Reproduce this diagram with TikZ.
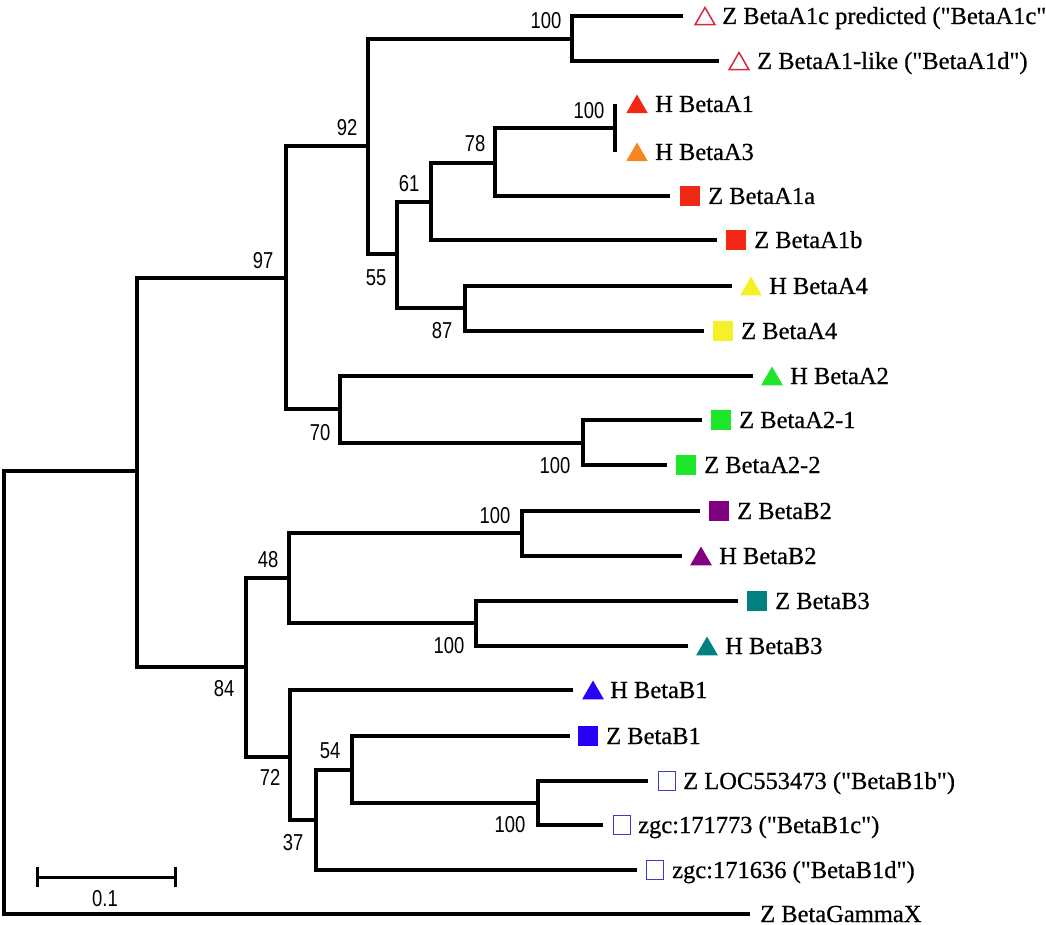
\documentclass[tikz,border=0pt]{standalone}
\usepackage{fontspec}
\setmainfont{Liberation Serif}[FakeBold=0.6]
\newfontfamily\bootfont[FakeStretch=0.8]{Liberation Sans}
\usepackage{xcolor}
\usetikzlibrary{shapes.geometric}
\usetikzlibrary{positioning}

\definecolor{openred}{RGB}{215,40,60}
\definecolor{openblue}{RGB}{60,60,200}
\definecolor{tred}{RGB}{240,40,20}
\definecolor{torange}{RGB}{245,135,30}
\definecolor{tyellow}{RGB}{245,240,40}
\definecolor{tgreen}{RGB}{30,230,40}
\definecolor{tpurple}{RGB}{128,0,128}
\definecolor{tteal}{RGB}{0,128,128}
\definecolor{tblue}{RGB}{40,0,250}

\newcommand{\qq}{\textquotedbl}

\begin{document}
\begin{tikzpicture}[x=1pt, y=-1pt]
\tikzset{
  branch/.style={line width=3.5pt, line join=miter},
  leaf/.style={anchor=west, inner sep=0pt, text height=16pt, text depth=0pt, font=\fontsize{24.5}{27}\selectfont},
  boot/.style={inner sep=0pt, text height=16.5pt, text depth=0pt, font=\bootfont\fontsize{23}{26}\selectfont},
  tri/.style={regular polygon, regular polygon sides=3, minimum size=25pt, inner sep=0pt, yshift=-3pt},
  sq/.style={rectangle, minimum size=19.5pt, inner sep=0pt},
  otri/.style={tri, draw=openred, line width=1.5pt, minimum size=23pt},
  osq/.style={sq, draw=openblue, line width=1.5pt, minimum width=17pt, minimum height=19pt},
}
\useasboundingbox (0,0) rectangle (1046,925);

% inner nodes of the tree
\coordinate (root) at (4,693);
\coordinate (n1) at (137,471);
\coordinate (n97) at (286,278);
\coordinate (n92) at (368,146);
\coordinate (n100a) at (572,39);
\coordinate (n55) at (397,254);
\coordinate (n61) at (431,202);
\coordinate (n78) at (495,163);
\coordinate (n100b) at (615,128);
\coordinate (n87) at (465,308);
\coordinate (n70) at (340,409);
\coordinate (n100c) at (583,443);
\coordinate (n84) at (246,667);
\coordinate (n48) at (289,578);
\coordinate (n100d) at (522,533);
\coordinate (n100e) at (476,623);
\coordinate (n72) at (290,757);
\coordinate (n37) at (316,820);
\coordinate (n54) at (352,770);
\coordinate (n100f) at (538,803);

% leaf ends
\coordinate (e1) at (683,16);
\coordinate (e2) at (719,61);
\coordinate (e3) at (615,104);
\coordinate (e4) at (615,152);
\coordinate (e5) at (670,196);
\coordinate (e6) at (717,240);
\coordinate (e7) at (732,286);
\coordinate (e8) at (704,331);
\coordinate (e9) at (753,376);
\coordinate (e10) at (702,420);
\coordinate (e11) at (667,465);
\coordinate (e12) at (700,511);
\coordinate (e13) at (682,556);
\coordinate (e14) at (738,601);
\coordinate (e15) at (688,646);
\coordinate (e16) at (573,690);
\coordinate (e17) at (570,736);
\coordinate (e18) at (648,781);
\coordinate (e19) at (603,825);
\coordinate (e20) at (637,870);
\coordinate (e21) at (750,914);

\draw[branch] (root) |- (n1);
\draw[branch] (root) |- (e21);
\draw[branch] (n1) |- (n97);
\draw[branch] (n1) |- (n84);
\draw[branch] (n97) |- (n92);
\draw[branch] (n97) |- (n70);
\draw[branch] (n92) |- (n100a);
\draw[branch] (n92) |- (n55);
\draw[branch] (n100a) |- (e1);
\draw[branch] (n100a) |- (e2);
\draw[branch] (n55) |- (n61);
\draw[branch] (n55) |- (n87);
\draw[branch] (n61) |- (n78);
\draw[branch] (n61) |- (e6);
\draw[branch] (n78) |- (n100b);
\draw[branch] (n78) |- (e5);
\draw[branch] (n100b) |- (e3);
\draw[branch] (n100b) |- (e4);
\draw[branch] (n87) |- (e7);
\draw[branch] (n87) |- (e8);
\draw[branch] (n70) |- (e9);
\draw[branch] (n70) |- (n100c);
\draw[branch] (n100c) |- (e10);
\draw[branch] (n100c) |- (e11);
\draw[branch] (n84) |- (n48);
\draw[branch] (n84) |- (n72);
\draw[branch] (n48) |- (n100d);
\draw[branch] (n48) |- (n100e);
\draw[branch] (n100d) |- (e12);
\draw[branch] (n100d) |- (e13);
\draw[branch] (n100e) |- (e14);
\draw[branch] (n100e) |- (e15);
\draw[branch] (n72) |- (e16);
\draw[branch] (n72) |- (n37);
\draw[branch] (n37) |- (n54);
\draw[branch] (n37) |- (e20);
\draw[branch] (n54) |- (e17);
\draw[branch] (n54) |- (n100f);
\draw[branch] (n100f) |- (e18);
\draw[branch] (n100f) |- (e19);

% markers and names
\node[otri] (m1) at ([xshift=22pt]e1) {};
\node[leaf] (t1) [right=39pt of e1] {Z BetaA1c predicted (\qq BetaA1c\qq)};
\node[otri] (m2) at ([xshift=20pt]e2) {};
\node[leaf] (t2) [right=38pt of e2] {Z BetaA1-like (\qq BetaA1d\qq)};
\node[tri, fill=tred] (m3) at ([xshift=22pt]e3) {};
\node[leaf] (t3) [right=40pt of e3] {H BetaA1};
\node[tri, fill=torange] (m4) at ([xshift=22pt]e4) {};
\node[leaf] (t4) [right=40pt of e4] {H BetaA3};
\node[sq, fill=tred] (m5) at ([xshift=20pt]e5) {};
\node[leaf] (t5) [right=38pt of e5] {Z BetaA1a};
\node[sq, fill=tred] (m6) at ([xshift=19pt]e6) {};
\node[leaf] (t6) [right=37pt of e6] {Z BetaA1b};
\node[tri, fill=tyellow] (m7) at ([xshift=19pt]e7) {};
\node[leaf] (t7) [right=37pt of e7] {H BetaA4};
\node[sq, fill=tyellow] (m8) at ([xshift=19pt]e8) {};
\node[leaf] (t8) [right=37pt of e8] {Z BetaA4};
\node[tri, fill=tgreen] (m9) at ([xshift=19pt]e9) {};
\node[leaf] (t9) [right=37pt of e9] {H BetaA2};
\node[sq, fill=tgreen] (m10) at ([xshift=19pt]e10) {};
\node[leaf] (t10) [right=37pt of e10] {Z BetaA2-1};
\node[sq, fill=tgreen] (m11) at ([xshift=19pt]e11) {};
\node[leaf] (t11) [right=37pt of e11] {Z BetaA2-2};
\node[sq, fill=tpurple] (m12) at ([xshift=19pt]e12) {};
\node[leaf] (t12) [right=37pt of e12] {Z BetaB2};
\node[tri, fill=tpurple] (m13) at ([xshift=19pt]e13) {};
\node[leaf] (t13) [right=37pt of e13] {H BetaB2};
\node[sq, fill=tteal] (m14) at ([xshift=19pt]e14) {};
\node[leaf] (t14) [right=37pt of e14] {Z BetaB3};
\node[tri, fill=tteal] (m15) at ([xshift=19pt]e15) {};
\node[leaf] (t15) [right=37pt of e15] {H BetaB3};
\node[tri, fill=tblue] (m16) at ([xshift=20pt]e16) {};
\node[leaf] (t16) [right=37pt of e16] {H BetaB1};
\node[sq, fill=tblue] (m17) at ([xshift=18pt]e17) {};
\node[leaf] (t17) [right=36pt of e17] {Z BetaB1};
\node[osq] (m18) at ([xshift=19pt]e18) {};
\node[leaf] (t18) [right=35pt of e18] {Z LOC553473 (\qq BetaB1b\qq)};
\node[osq] (m19) at ([xshift=19pt]e19) {};
\node[leaf] (t19) [right=35pt of e19] {zgc:171773 (\qq BetaB1c\qq)};
\node[osq] (m20) at ([xshift=18pt]e20) {};
\node[leaf] (t20) [right=35pt of e20] {zgc:171636 (\qq BetaB1d\qq)};
\node[leaf] (t21) [right=10pt of e21] {Z BetaGammaX};

% bootstrap values
\node[boot] (b100a) at (546,20) {100};
\node[boot] (b92) at (347,127) {92};
\node[boot] (b97) at (263,260) {97};
\node[boot] (b100b) at (589,110) {100};
\node[boot] (b78) at (475,143) {78};
\node[boot] (b61) at (409,183) {61};
\node[boot] (b55) at (376,277) {55};
\node[boot] (b87) at (442,330) {87};
\node[boot] (b70) at (320,432) {70};
\node[boot] (b100c) at (555,465) {100};
\node[boot] (b100d) at (495,515) {100};
\node[boot] (b48) at (268,559) {48};
\node[boot] (b100e) at (449,645) {100};
\node[boot] (b84) at (224,688) {84};
\node[boot] (b72) at (270,777) {72};
\node[boot] (b54) at (330,750) {54};
\node[boot] (b37) at (293,842) {37};
\node[boot] (b100f) at (510,824) {100};

% scale bar
\coordinate (s1) at (37,877);
\coordinate (s2) at (175,877);
\draw[branch, line width=3pt] (s1) -- (s2);
\draw[line width=3pt] ([yshift=10pt]s1) -- ([yshift=-10pt]s1);
\draw[line width=3pt] ([yshift=10pt]s2) -- ([yshift=-10pt]s2);
\node[boot] (s0) at (105,898) {0.1};
\end{tikzpicture}
\end{document}
